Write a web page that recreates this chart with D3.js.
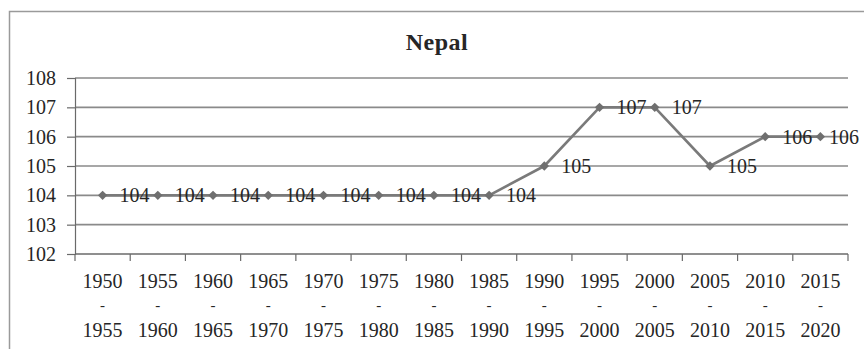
<!DOCTYPE html>
<html>
<head>
<meta charset="utf-8">
<script src="https://cdn.jsdelivr.net/npm/d3@7"></script>
<style>
  html, body { margin: 0; padding: 0; background: #fff; }
  svg { display: block; }
  text { font-family: "Liberation Serif", "DejaVu Serif", serif; fill: #262626; }
</style>
</head>
<body>
<svg id="chart" width="864" height="349"></svg>
<script>
// Five-year periods and the values plotted for each
const periods = ["1950-1955", "1955-1960", "1960-1965", "1965-1970", "1970-1975",
                 "1975-1980", "1980-1985", "1985-1990", "1990-1995", "1995-2000",
                 "2000-2005", "2005-2010", "2010-2015", "2015-2020"];
const values = [104, 104, 104, 104, 104, 104, 104, 104, 105, 107, 107, 105, 106, 106];
const yTicks = [102, 103, 104, 105, 106, 107, 108];
const chartTitle = "Nepal";

const W = 864, H = 349;
const plot = { left: 75, right: 848, top: 78, bottom: 254 };
const svg = d3.select("#chart");

// outer frame (extends past the right and bottom edges)
svg.append("rect")
  .attr("x", 9.5).attr("y", 11.5)
  .attr("width", 880).attr("height", 360)
  .attr("fill", "none").attr("stroke", "#9a9a9a").attr("stroke-width", 1.5);

const x = d3.scaleBand().domain(periods).range([plot.left, plot.right]);
const y = d3.scaleLinear().domain([102, 108]).range([plot.bottom, plot.top]);

// horizontal gridlines
svg.append("g").selectAll("line").data(yTicks.filter(v => v !== 102)).join("line")
  .attr("x1", plot.left).attr("x2", plot.right)
  .attr("y1", d => y(d)).attr("y2", d => y(d))
  .attr("stroke", "#8a8a8a").attr("stroke-width", 1.6);

// y axis
const yAxis = svg.append("g")
  .attr("transform", `translate(${plot.left},0)`)
  .call(d3.axisLeft(y).tickValues(yTicks).tickSize(8).tickPadding(11).tickFormat(d3.format("d")));
yAxis.select(".domain").attr("stroke", "#6a6a6a").attr("stroke-width", 1.2);
yAxis.selectAll(".tick line").attr("stroke", "#6a6a6a").attr("stroke-width", 1.2);
yAxis.selectAll("text").attr("font-size", 20).attr("font-family", "Liberation Serif").attr("fill", "#262626");

// x axis: ticks sit on the period boundaries
const xg = svg.append("g");
xg.append("line")
  .attr("x1", plot.left).attr("x2", plot.right)
  .attr("y1", plot.bottom).attr("y2", plot.bottom)
  .attr("stroke", "#6a6a6a").attr("stroke-width", 1.4);
const bounds = periods.map(p => x(p)).concat([x(periods[periods.length - 1]) + x.bandwidth()]);
xg.selectAll("line.tk").data(bounds).join("line").attr("class", "tk")
  .attr("x1", d => d).attr("x2", d => d)
  .attr("y1", plot.bottom).attr("y2", plot.bottom + 7)
  .attr("stroke", "#6a6a6a").attr("stroke-width", 1.2);

const lbl = xg.selectAll("text").data(periods).join("text")
  .attr("text-anchor", "middle")
  .attr("font-size", 20);
lbl.each(function (p) {
  const [a, b] = p.split("-");
  const cx = x(p) + x.bandwidth() / 2;
  const t = d3.select(this);
  t.append("tspan").attr("x", cx).attr("y", 288).text(a);
  t.append("tspan").attr("x", cx).attr("y", 310).attr("font-size", 15).text("-");
  t.append("tspan").attr("x", cx).attr("y", 337).text(b);
});

// series line
const cx = d => x(d.p) + x.bandwidth() / 2;
const pts = periods.map((p, i) => ({ p, v: values[i] }));
svg.append("path").datum(pts)
  .attr("fill", "none").attr("stroke", "#7a7a7a").attr("stroke-width", 2.6)
  .attr("stroke-linejoin", "round")
  .attr("d", d3.line().x(cx).y(d => y(d.v)));

// diamond markers
svg.append("g").selectAll("path").data(pts).join("path")
  .attr("transform", d => `translate(${cx(d)},${y(d.v)})`)
  .attr("d", d3.symbol().type(d3.symbolDiamond2).size(56))
  .attr("fill", "#6f6f6f");

// value labels to the right of each point, kept inside the frame
svg.append("g").selectAll("text").data(pts).join("text")
  .attr("font-size", 20)
  .attr("y", d => y(d.v) + 7)
  .text(d => d.v)
  .attr("x", function (d) {
    const w = this.getComputedTextLength();
    return Math.min(cx(d) + 17, W - 5 - w);
  });

// title
svg.append("text")
  .attr("x", 437).attr("y", 50)
  .attr("text-anchor", "middle")
  .attr("font-size", 24).attr("font-weight", "bold")
  .attr("letter-spacing", 0.5)
  .text(chartTitle);
</script>
</body>
</html>
